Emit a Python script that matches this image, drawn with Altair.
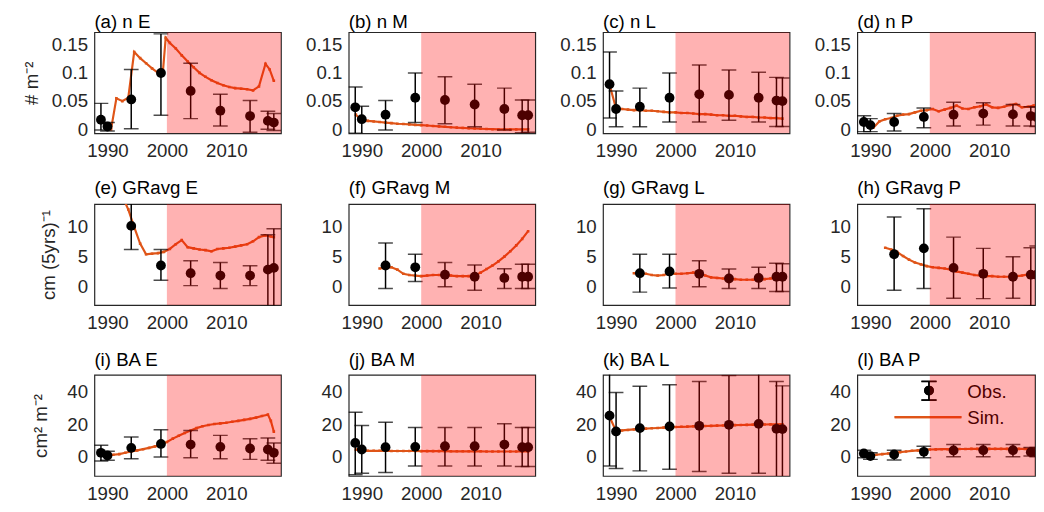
import altair as alt
import pandas as pd

FONT = "Liberation Sans"
SIM_COLOR = "#DF5518"

# ---------------- data ----------------
obs_years = [1988.9, 1990, 1994, 1999, 2004, 2009, 2014, 2017, 2018]
gr_obs_years = [1994, 1999, 2004, 2009, 2014, 2017, 2018]

# (a) n E
nE_obs = [0.017, 0.005, 0.053, 0.0997, 0.068, 0.033, 0.0235, 0.015, 0.012]
nE_lo = [-0.001, -0.003, 0.001, 0.025, 0.019, 0.006, -0.005, 0.0, -0.002]
nE_hi = [0.046, 0.012, 0.106, 0.169, 0.117, 0.062, 0.051, 0.032, 0.028]
nE_sim_years = [1990.6, 1991.5, 1992.5, 1993.5, 1994.5, 1995.5, 1996.5, 1997.5, 1998.5, 1999.3,
                1999.8, 2000.5, 2001.5, 2002.5, 2003.5, 2004.5, 2005.5, 2006.5, 2007.5, 2008.5,
                2009.5, 2010.5, 2011.5, 2012.5, 2013.5, 2014.5, 2015.5, 2016.6, 2017.3, 2018.0]
nE_sim = [0.0, 0.055, 0.05, 0.056, 0.137, 0.126, 0.117, 0.108, 0.1, 0.098,
          0.162, 0.153, 0.143, 0.131, 0.12, 0.11, 0.1, 0.093, 0.087, 0.082,
          0.078, 0.075, 0.073, 0.072, 0.071, 0.069, 0.076, 0.116, 0.106, 0.086]

# (b) n M
nM_obs = [0.039, 0.018, 0.026, 0.056, 0.052, 0.044, 0.036, 0.025, 0.025]
nM_lo = [-0.007, -0.01, -0.001, 0.012, 0.010, 0.0045, -0.001, -0.006, -0.005]
nM_hi = [0.075, 0.041, 0.051, 0.0997, 0.093, 0.080, 0.073, 0.052, 0.052]
sim_years_89 = [1989, 1990, 1991, 1992, 1993, 1994, 1995, 1996, 1997, 1998, 1999, 2000,
                2001, 2002, 2003, 2004, 2005, 2006, 2007, 2008, 2009, 2010, 2011, 2012,
                2013, 2014, 2015, 2016, 2017, 2018]
nM_sim = [0.026, 0.016, 0.015, 0.014, 0.013, 0.012, 0.011, 0.010, 0.0095, 0.0088, 0.008, 0.0075,
          0.0068, 0.006, 0.0052, 0.0045, 0.0038, 0.003, 0.0025, 0.002, 0.0015, 0.001, 0.0006, 0.0003,
          0.0001, 0.0, 0.0, 0.0, 0.0, 0.0]

# (c) n L
nL_obs = [0.080, 0.036, 0.040, 0.056, 0.062, 0.061, 0.056, 0.051, 0.050]
nL_lo = [0.020, 0.0045, 0.0045, 0.013, 0.013, 0.016, 0.013, 0.005, 0.005]
nL_hi = [0.137, 0.068, 0.073, 0.0997, 0.114, 0.105, 0.101, 0.092, 0.091]
nL_sim_years = [1988.9, 1990, 1991, 1992, 1993, 1994, 1995, 1996, 1997, 1998, 1999, 2000,
                2001, 2002, 2003, 2004, 2005, 2006, 2007, 2008, 2009, 2010, 2011, 2012,
                2013, 2014, 2015, 2016, 2017, 2018]
nL_sim = [0.079, 0.037, 0.036, 0.035, 0.034, 0.034, 0.033, 0.033, 0.032, 0.031, 0.030, 0.030,
          0.029, 0.029, 0.028, 0.027, 0.027, 0.026, 0.025, 0.025, 0.024, 0.024, 0.023, 0.022,
          0.022, 0.021, 0.021, 0.020, 0.020, 0.019]

# (d) n P
nP_obs = [0.013, 0.0075, 0.013, 0.022, 0.026, 0.028, 0.0265, 0.0235, 0.022]
nP_lo = [-0.004, -0.004, -0.003, 0.003, 0.006, 0.0075, 0.006, 0.006, 0.005]
nP_hi = [0.024, 0.019, 0.028, 0.038, 0.048, 0.047, 0.044, 0.040, 0.039]
nP_sim_years = [1990.5, 1991.5, 1992.5, 1993.5, 1994.5, 1995.5, 1996.5, 1997.5, 1998.5, 1999.5,
                2000.5, 2001.5, 2002.5, 2003.5, 2004.5, 2005.5, 2006.5, 2007.5, 2008.5, 2009.5,
                2010.5, 2011.5, 2012.5, 2013.5, 2014.5, 2015.5, 2016.5, 2017.5, 2018.5]
nP_sim = [0.003, 0.014, 0.018, 0.020, 0.024, 0.026, 0.027, 0.030, 0.033, 0.034,
          0.036, 0.032, 0.035, 0.038, 0.042, 0.037, 0.036, 0.039, 0.041, 0.044,
          0.039, 0.038, 0.040, 0.043, 0.045, 0.039, 0.040, 0.042, 0.044]

# (e) GRavg E
grE_obs = [10.2, 3.5, 2.2, 1.8, 1.8, 2.8, 3.1]
grE_lo = [6.2, 1.0, 0.1, -0.4, 0.1, -3.3, -3.5]
grE_hi = [14.5, 6.2, 4.3, 4.0, 3.45, 8.7, 9.7]
grE_sim_years = [1992.8, 1993.5, 1994.5, 1995.5, 1996.5, 1997.5, 1998.5, 1999.5, 2000.5, 2001.5,
                 2002.5, 2003.5, 2004.5, 2005.5, 2006.5, 2007.5, 2008.5, 2009.5, 2010.5, 2011.5,
                 2012.5, 2013.5, 2014.5, 2015.5, 2016.5, 2017.5, 2018.0]
grE_sim = [14.5, 13.0, 10.0, 7.2, 5.4, 5.5, 5.6, 5.8, 6.3, 7.1,
           7.8, 6.6, 6.4, 6.2, 6.1, 5.9, 6.3, 6.4, 6.5, 6.7,
           6.9, 7.1, 7.6, 8.3, 8.6, 8.4, 8.3]

# (f) GRavg M
grM_obs = [3.5, 3.2, 1.95, 1.6, 1.4, 1.6, 1.6]
grM_lo = [-0.4, 0.8, -0.1, -0.7, -0.4, -0.4, -0.4]
grM_hi = [7.3, 5.4, 4.0, 3.6, 2.95, 3.7, 3.7]
sim_years_93 = [1993, 1994, 1995, 1996, 1997, 1998, 1999, 2000, 2001, 2002, 2003, 2004, 2005,
                2006, 2007, 2008, 2009, 2010, 2011, 2012, 2013, 2014, 2015, 2016, 2017, 2018]
grM_sim = [3.0, 3.1, 3.2, 2.8, 2.1, 1.9, 1.8, 1.7, 1.8, 1.9, 1.9, 1.9, 1.8,
           1.7, 1.7, 1.7, 1.8, 2.3, 2.9, 3.5, 4.2, 5.0, 5.9, 6.9, 8.0, 9.3]

# (g) GRavg L
grL_obs = [2.2, 2.5, 2.1, 1.3, 1.4, 1.6, 1.6]
grL_lo = [-1.0, -0.3, -0.1, -0.4, -0.4, -0.9, -0.9]
grL_hi = [5.4, 5.4, 4.3, 2.9, 3.2, 3.9, 3.8]
grL_sim = [2.2, 2.2, 2.1, 1.9, 1.8, 1.9, 2.1, 2.1, 2.1, 2.2, 2.3, 2.2, 1.8,
           1.5, 1.4, 1.3, 1.2, 1.2, 1.1, 1.1, 1.1, 1.1, 1.2, 1.3, 1.4, 1.4]

# (h) GRavg P
grP_obs = [5.4, 6.4, 3.1, 2.1, 1.6, 1.95, 1.95]
grP_lo = [-0.7, -0.4, -2.05, -2.1, -2.05, -3.3, -3.3]
grP_hi = [11.7, 13.1, 8.3, 6.4, 5.0, 6.5, 6.8]
grP_sim_years = [1992.5, 1993.5, 1994.5, 1995.5, 1996.5, 1997.5, 1998.5, 1999.5, 2000.5, 2001.5,
                 2002.5, 2003.5, 2004.5, 2005.5, 2006.5, 2007.5, 2008.5, 2009.5, 2010.5, 2011.5,
                 2012.5, 2013.5, 2014.5, 2015.5, 2016.5, 2017.5, 2018.5]
grP_sim = [6.5, 6.2, 5.8, 5.1, 4.5, 4.0, 3.7, 3.4, 3.2, 3.1,
           3.0, 2.8, 2.5, 2.3, 2.1, 1.9, 1.8, 1.7, 1.7, 1.6,
           1.6, 1.6, 1.7, 1.8, 2.0, 2.1, 2.2]

# (i) BA E
baE_obs = [2.6, 1.0, 5.6, 8.0, 7.6, 6.2, 5.2, 4.6, 2.6]
baE_lo = [-2.4, -2.0, -1.0, 0.0, -0.4, -1.0, -1.4, -2.0, -3.8]
baE_hi = [7.2, 3.5, 12.2, 16.6, 16.2, 13.2, 11.2, 11.6, 8.6]
baE_sim_years = [1989, 1990, 1991, 1992, 1993, 1994, 1995, 1996, 1997, 1998, 1999, 2000,
                 2001, 2002, 2003, 2004, 2005, 2006, 2007, 2008, 2009, 2010, 2011, 2012,
                 2013, 2014, 2015, 2016, 2017, 2017.5, 2018]
baE_sim = [1.5, 1.2, 1.4, 1.8, 2.6, 3.4, 4.1, 4.8, 5.6, 6.5, 7.6, 9.2,
           11.2, 13.0, 14.6, 16.2, 17.6, 18.7, 19.5, 20.1, 20.5, 20.9, 21.5, 22.0,
           22.6, 23.2, 24.0, 25.0, 25.8, 22.0, 15.5]

# (j) BA M
baM_obs = [8.6, 4.6, 6.0, 6.2, 6.6, 6.6, 7.6, 6.0, 6.0]
baM_lo = [-10.8, -9.8, -9.4, -5.4, -5.4, -5.4, -5.4, -5.8, -5.8]
baM_hi = [27.2, 19.2, 21.2, 18.0, 18.0, 18.0, 20.2, 18.0, 18.0]
baM_sim = [4.5, 3.9, 3.8, 3.8, 3.8, 3.8, 3.7, 3.7, 3.7, 3.7, 3.7, 3.6,
           3.6, 3.6, 3.6, 3.6, 3.5, 3.5, 3.5, 3.5, 3.5, 3.5, 3.4, 3.4,
           3.4, 3.4, 3.4, 3.4, 3.4, 3.4]

# (k) BA L
baL_obs = [25.2, 15.6, 17.6, 18.6, 19.0, 19.6, 20.2, 17.2, 17.0]
baL_lo = [-5.4, -7.0, -8.4, -7.4, -8.8, -9.8, -9.8, -13.0, -13.0]
baL_hi = [52.0, 39.2, 43.0, 44.0, 46.0, 49.6, 50.5, 46.0, 43.3]
baL_sim = [24.5, 15.8, 16.2, 16.5, 16.8, 17.0, 17.3, 17.5, 17.7, 17.9, 18.1, 18.3,
           18.4, 18.5, 18.7, 18.8, 18.9, 19.0, 19.1, 19.2, 19.3, 19.4, 19.5, 19.6,
           19.7, 19.8, 19.8, 19.9, 19.9, 20.0]

# (l) BA P
baP_obs = [2.2, 0.6, 1.6, 3.2, 4.0, 4.2, 4.2, 3.0, 2.8]
baP_lo = [-0.4, -1.4, -1.8, -0.4, 0.2, 0.2, 0.2, 0.6, 0.2]
baP_hi = [4.2, 2.6, 4.2, 6.6, 7.6, 7.6, 7.6, 5.8, 5.8]
baP_sim = [1.5, 1.2, 1.4, 1.8, 2.2, 2.6, 3.0, 3.4, 3.8, 4.1, 4.4, 4.6,
           4.7, 4.8, 4.8, 4.9, 4.9, 4.9, 5.0, 5.0, 5.0, 5.0, 5.0, 5.0,
           5.0, 5.0, 5.0, 5.0, 5.0, 5.0]

panel_titles = ["(a) n E", "(b) n M", "(c) n L", "(d) n P",
                "(e) GRavg E", "(f) GRavg M", "(g) GRavg L", "(h) GRavg P",
                "(i) BA E", "(j) BA M", "(k) BA L", "(l) BA P"]
row_ytitles = ["# m⁻²", "cm (5yrs)⁻¹", "cm² m⁻²"]
row_ydomains = [[-0.007, 0.172], [-3.2, 13.9], [-11.5, 50.0]]
row_yticks = [[0, 0.05, 0.1, 0.15], [0, 5, 10], [0, 20, 40]]
x_ticks = [1990, 2000, 2010]
shade_start = 2000
legend_labels = ["Obs.", "Sim."]

# ---------------- layout constants ----------------
X_MIN = 1987.8
X_MAX = 2019.2
PX_PER_YEAR = 190 / (X_MAX - X_MIN)
W = 190
W_LAST = 181
X_MAX_LAST = X_MIN + W_LAST / PX_PER_YEAR
H = 103
Y_EXTENT = 50
FIRST_COL_EXTENT = [46, 0, 37]
ROW_TITLE_OFFSET = [0, 6, 5]


def make_panel(idx, obs_x, obs, lo, hi, sim_x, sim, legend=False):
    row, col = divmod(idx, 4)
    last = col == 3
    xmax = X_MAX_LAST if last else X_MAX
    width = W_LAST if last else W
    xscale = alt.Scale(domain=[X_MIN, xmax], nice=False, zero=False)
    yscale = alt.Scale(domain=row_ydomains[row], nice=False, zero=False)
    xaxis = alt.Axis(values=x_ticks, format="d", title=None, labelPadding=9, tickCount=10,
                     grid=False, ticks=False, domain=False)
    yaxis = alt.Axis(values=row_yticks[row], format="~r", tickCount=10,
                     title=row_ytitles[row] if col == 0 else None,
                     labelPadding=7, titlePadding=8, grid=False, ticks=False, domain=False,
                     labelOverlap=False,
                     minExtent=FIRST_COL_EXTENT[row] if col == 0 else Y_EXTENT)

    obs_df = pd.DataFrame({"year": obs_x, "val": obs, "lo": lo, "hi": hi})
    sim_df = pd.DataFrame({"year": sim_x, "val": sim})
    shade_df = pd.DataFrame({"x": [shade_start], "x2": [xmax]})

    X = alt.X("year:Q", scale=xscale, axis=xaxis)

    sim_line = alt.Chart(sim_df).mark_line(
        color=SIM_COLOR, strokeWidth=2.2, clip=True,
        point=alt.OverlayMarkDef(filled=True, shape="square", size=7, color=SIM_COLOR, clip=True),
    ).encode(x=X, y=alt.Y("val:Q", scale=yscale, axis=yaxis))

    err = alt.Chart(obs_df).mark_rule(color="black", strokeWidth=1.5, clip=True).encode(
        x=X, y=alt.Y("lo:Q", scale=yscale, axis=yaxis), y2="hi:Q")
    cap_lo = alt.Chart(obs_df).mark_tick(color="black", thickness=1.5, size=15,
                                         orient="horizontal", clip=True).encode(
        x=X, y=alt.Y("lo:Q", scale=yscale, axis=yaxis))
    cap_hi = alt.Chart(obs_df).mark_tick(color="black", thickness=1.5, size=15,
                                         orient="horizontal", clip=True).encode(
        x=X, y=alt.Y("hi:Q", scale=yscale, axis=yaxis))
    pts = alt.Chart(obs_df).mark_circle(color="black", size=100, opacity=1, clip=True).encode(
        x=X, y=alt.Y("val:Q", scale=yscale, axis=yaxis))

    layers = [sim_line, err, cap_lo, cap_hi, pts]

    if legend:
        leg_df = pd.DataFrame({"label": legend_labels})
        base = alt.Chart(leg_df)
        layers += [
            base.mark_rule(color="black", strokeWidth=1.5).encode(
                x=alt.value(73), y=alt.value(6.7), y2=alt.value(25.7)),
            base.mark_rule(color="black", strokeWidth=1.5).encode(
                x=alt.value(65.3), x2=alt.value(80.7), y=alt.value(6.7)),
            base.mark_rule(color="black", strokeWidth=1.5).encode(
                x=alt.value(65.3), x2=alt.value(80.7), y=alt.value(25.7)),
            base.mark_circle(color="black", size=100, opacity=1).encode(
                x=alt.value(73), y=alt.value(16)),
            base.mark_rule(color=SIM_COLOR, strokeWidth=2.2).encode(
                x=alt.value(38), x2=alt.value(106), y=alt.value(43)),
            base.transform_filter(alt.datum.label == legend_labels[0]).mark_text(
                align="left", baseline="middle", font=FONT, fontSize=19, color="black").encode(
                x=alt.value(112), y=alt.value(18), text="label:N"),
            base.transform_filter(alt.datum.label == legend_labels[1]).mark_text(
                align="left", baseline="middle", font=FONT, fontSize=19, color="black").encode(
                x=alt.value(112), y=alt.value(44), text="label:N"),
        ]

    shade = alt.Chart(shade_df).mark_rect(color="#ff0000", opacity=0.3, clip=True).encode(
        x=alt.X("x:Q", scale=xscale, axis=xaxis), x2="x2:Q",
        y=alt.datum(row_ydomains[row][0], scale=yscale),
        y2=alt.datum(row_ydomains[row][1]))
    layers.append(shade)

    return alt.layer(*layers).properties(
        width=width, height=H,
        title=alt.TitleParams(panel_titles[idx], anchor="start", frame="group", fontSize=19,
                              font=FONT, fontWeight="normal", color="black",
                              offset=ROW_TITLE_OFFSET[row]),
    )


panels = [
    make_panel(0, obs_years, nE_obs, nE_lo, nE_hi, nE_sim_years, nE_sim),
    make_panel(1, obs_years, nM_obs, nM_lo, nM_hi, sim_years_89, nM_sim),
    make_panel(2, obs_years, nL_obs, nL_lo, nL_hi, nL_sim_years, nL_sim),
    make_panel(3, obs_years, nP_obs, nP_lo, nP_hi, nP_sim_years, nP_sim),
    make_panel(4, gr_obs_years, grE_obs, grE_lo, grE_hi, grE_sim_years, grE_sim),
    make_panel(5, gr_obs_years, grM_obs, grM_lo, grM_hi, sim_years_93, grM_sim),
    make_panel(6, gr_obs_years, grL_obs, grL_lo, grL_hi, sim_years_93, grL_sim),
    make_panel(7, gr_obs_years, grP_obs, grP_lo, grP_hi, grP_sim_years, grP_sim),
    make_panel(8, obs_years, baE_obs, baE_lo, baE_hi, baE_sim_years, baE_sim),
    make_panel(9, obs_years, baM_obs, baM_lo, baM_hi, sim_years_89, baM_sim),
    make_panel(10, obs_years, baL_obs, baL_lo, baL_hi, nL_sim_years, baL_sim),
    make_panel(11, obs_years, baP_obs, baP_lo, baP_hi, sim_years_89, baP_sim, legend=True),
]

chart = alt.concat(
    *panels, columns=4, spacing=17
).configure_view(
    stroke="#262626", strokeWidth=1.2
).configure_axis(
    labelFont=FONT, labelFontSize=19, labelColor="#262626", labelOverlap=False,
    titleFont=FONT, titleFontSize=19, titleColor="#262626", titleFontWeight="normal",
).properties(
    padding={"left": 14, "top": 0, "right": 0, "bottom": 0},
    background="white",
)

chart.save("out.html", embed_options={"renderer": "svg", "actions": False})
